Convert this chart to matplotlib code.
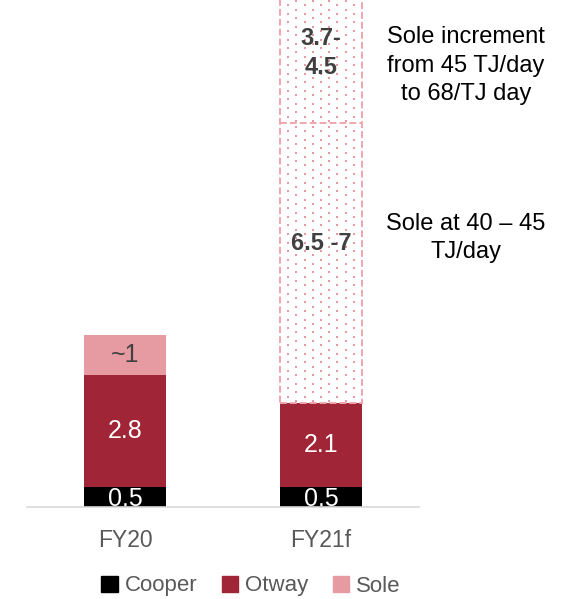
import numpy as np
import matplotlib
matplotlib.use("Agg")
import matplotlib.pyplot as plt
from matplotlib.patches import Patch
from matplotlib import font_manager

categories = ["FY20", "FY21f"]
cooper = np.array([0.5, 0.5])
otway = np.array([2.8, 2.1])
sole = np.array([1.0, 0.0])
sole_base = np.array([0.0, 7.0])       # forecast, Sole at 40-45 TJ/day
sole_increment = np.array([0.0, 3.7])  # forecast, 45 -> 68 TJ/day

cooper_labels = ["0.5", "0.5"]
otway_labels = ["2.8", "2.1"]
sole_labels = ["~1", ""]
base_labels = ["", "6.5 -7"]
incr_labels = ["", "3.7-\n4.5"]

notes = ["Sole increment\nfrom 45 TJ/day\nto 68/TJ day", "Sole at 40 \u2013 45\nTJ/day"]

COOPER = "#000000"
OTWAY = "#A02537"
SOLE = "#E69BA3"
DOTS = "#EC98A2"
DASH = "#F0A5AD"

names = {f.name for f in font_manager.fontManager.ttflist}
font = "Liberation Sans Narrow" if "Liberation Sans Narrow" in names else "Liberation Sans"
plt.rcParams["font.family"] = [font, "DejaVu Sans"]

W, H = 566, 599
fig = plt.figure(figsize=(W / 100, H / 100), dpi=100)
ppu = 40  # pixels per unit
top = (cooper + otway + sole + sole_base + sole_increment).max()
ax = fig.add_axes([27 / W, (H - 507) / H, 392 / W, top * ppu / H])

x = np.arange(len(categories))
bw = 0.42
ax.bar(x, cooper, bw, color=COOPER, label="Cooper")
ax.bar(x, otway, bw, bottom=cooper, color=OTWAY, label="Otway")
ax.bar(x, sole, bw, bottom=cooper + otway, color=SOLE, label="Sole")


def dotted_fill(ax, xc, bottom, height, width):
    # staggered dot texture like the excel pattern fill
    dx = width / 10
    dy = 0.107
    px, py = [], []
    nrows = int(height / dy)
    for k in range(nrows):
        for j in range(1, 10):
            if (j + k) % 2 == 0:
                px.append(xc - width / 2 + j * dx)
                py.append(bottom + (k + 0.5) * dy)
    ax.scatter(px, py, s=1.6, marker="s", color=DOTS, linewidths=0, zorder=2)


# forecast segments: dotted fill, dashed outline
b1 = cooper + otway + sole
b2 = b1 + sole_base
fc = sole_base + sole_increment
for vals, bottom in [(sole_base, b1), (sole_increment, b2)]:
    for i in np.where(vals > 0)[0]:
        dotted_fill(ax, x[i], bottom[i], vals[i], bw)
m = fc > 0
dash = (0, (3.5, 1.6))
ax.bar(x[m], fc[m], bw, bottom=b1[m], fill=False, edgecolor=DASH,
       linestyle=dash, linewidth=1.4, zorder=3)
ax.hlines(b2[m], x[m] - bw / 2, x[m] + bw / 2, color=DASH, linestyle=dash,
          linewidth=1.4, zorder=3)

for i in range(len(categories)):
    ax.text(x[i], cooper[i] / 2 - 0.05, cooper_labels[i], ha="center", va="center",
            color="white", fontsize=18)
    ax.text(x[i], cooper[i] + otway[i] / 2, otway_labels[i], ha="center", va="center",
            color="white", fontsize=18)
    if sole_labels[i]:
        ax.text(x[i], b1[i] - sole[i] / 2, sole_labels[i], ha="center", va="center",
                color="#404040", fontsize=18)
    if base_labels[i]:
        ax.text(x[i], b1[i] + sole_base[i] / 2 + 0.5, base_labels[i], ha="center",
                va="center", color="#404040", fontsize=17, fontweight="bold", zorder=4)
    if incr_labels[i]:
        ax.text(x[i], b2[i] + sole_increment[i] / 2 - 0.1, incr_labels[i], ha="center",
                va="center", color="#404040", fontsize=17, fontweight="bold",
                linespacing=1.3, zorder=4)

ax.text(1.74, b2[1] + sole_increment[1] / 2 - 0.42, notes[0], ha="center", va="center",
        fontsize=17, linespacing=1.38)
ax.text(1.74, b1[1] + sole_base[1] / 2 + 0.62, notes[1], ha="center", va="center",
        fontsize=17, linespacing=1.38)

ax.set_xlim(-0.5, 1.5)
ax.set_ylim(0, top)
for s in ["top", "right", "left"]:
    ax.spines[s].set_visible(False)
ax.spines["bottom"].set_color("#D9D9D9")
ax.spines["bottom"].set_linewidth(1.2)
ax.set_yticks([])
ax.set_xticks(x)
ax.set_xticklabels(categories, fontsize=16.5, color="#595959")
ax.tick_params(axis="x", length=0, pad=16)

handles = [Patch(color=COOPER, label="Cooper"), Patch(color=OTWAY, label="Otway"),
           Patch(color=SOLE, label="Sole")]
fig.legend(handles=handles, loc="center", bbox_to_anchor=(251 / W, 1 - 586 / H),
           ncol=3, frameon=False, fontsize=16, handlelength=0.75, handleheight=0.75,
           handletextpad=0.3, columnspacing=1.1, labelcolor="#595959")

fig.savefig("out.png", dpi=100)
